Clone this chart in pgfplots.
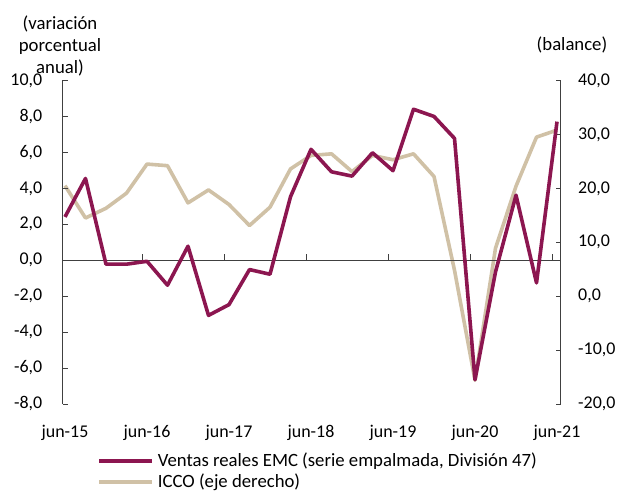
\documentclass[border=0pt]{standalone}
\usepackage{fontspec}
\setmainfont{Carlito}
\usepackage{pgfplots}
\usepackage{pgfplotstable}
\pgfplotsset{compat=1.18}
\definecolor{ventas}{RGB}{140,22,80}
\definecolor{icco}{RGB}{208,193,166}
\definecolor{axgray}{RGB}{64,64,64}

\pgfplotstableread{
k v
0 2.41
1 4.55
2 -0.22
3 -0.22
4 -0.06
5 -1.39
6 0.78
7 -3.07
8 -2.47
9 -0.52
10 -0.78
11 3.53
12 6.17
13 4.92
14 4.68
15 5.98
16 4.98
17 8.40
18 8.00
19 6.78
20 -6.65
21 -0.65
22 3.62
23 -1.26
24 7.71
}\ventasdata

\pgfplotstableread{
k v
0 20.5
1 14.5
2 16.3
3 19.1
4 24.5
5 24.2
6 17.3
7 19.7
8 17.0
9 13.1
10 16.5
11 23.6
12 26.1
13 26.4
14 23.1
15 26.1
16 25.3
17 26.4
18 22.2
19 4.8
20 -15.6
21 8.9
22 20.4
23 29.5
24 30.8
}\iccodata

\pgfplotsset{
  common/.style={
    scale only axis, width=498bp, height=323.5bp,
    at={(62.7bp,87bp)}, anchor=south west,
    xmin=-0.112, xmax=24.18,
    tick label style={font=\fontsize{18}{21}\selectfont},
    tick align=inside, major tick length=5bp,
    y axis line style={draw=axgray, line width=0.8bp},
    ytick style={draw=axgray, line width=0.8bp},
  }
}

\begin{document}
\begin{tikzpicture}
\useasboundingbox (0,0) rectangle (618bp,491bp);

\begin{axis}[common,
  ymin=-20, ymax=40, ytick={-20,-10,...,40},
  axis y line*=right, axis x line=none,
  yticklabel={\makebox[33bp][l]{\pgfmathprintnumber[fixed,fixed zerofill,precision=1,use comma,assume math mode=true]{\tick}}},
  yticklabel style={anchor=west, xshift=14bp},
  legend style={draw=none, fill=none, inner xsep=0pt, inner ysep=0pt,
    at={(axis description cs:0.069,-0.150)}, anchor=north west,
    font=\fontsize{18.8}{22}\selectfont, row sep=5bp,
    nodes={inner sep=0pt, text depth=0.25em},
    /tikz/every odd column/.append style={column sep=4bp}},
  legend cell align=left,
  legend image code/.code={\draw[#1] (0bp,0bp) -- (53bp,0bp);},
]
\addlegendimage{ventas, line width=3.6bp}
\addlegendentry{Ventas reales EMC (serie empalmada, División 47)}
\addplot[icco, line width=3.6bp, line join=round] table[x=k,y=v]{\iccodata};
\addlegendentry{ICCO (eje derecho)}
\end{axis}

\begin{axis}[common,
  ymin=-8, ymax=10, ytick={-8,-6,...,10},
  axis y line*=left, axis x line*=bottom,
  x axis line style={draw=none},
  xtick={0,4,...,24},
  xticklabels={jun-15,jun-16,jun-17,jun-18,jun-19,jun-20,jun-21},
  xtick style={draw=none},
  xticklabel style={anchor=base, yshift=-34bp},
  yticklabel={\pgfmathprintnumber[fixed,fixed zerofill,precision=1,use comma,assume math mode=true]{\tick}},
  yticklabel style={anchor=east, xshift=-17bp},
]
\draw[axgray, line width=0.8bp] (axis cs:-0.112,0) -- (axis cs:24.18,0);
\pgfplotsinvokeforeach{3.78,7.78,11.78,15.78,19.78,23.78}{
  \draw[axgray, line width=0.8bp] (axis cs:#1,0) -- ([yshift=6bp]axis cs:#1,0);
}
\addplot[ventas, line width=3.6bp, line join=round] table[x=k,y=v]{\ventasdata};
\end{axis}

\node[align=center, font=\fontsize{18.8}{22.5}\selectfont, inner sep=0pt] at (60bp,445bp) {(variación\\porcentual\\anual)};
\node[font=\fontsize{18.8}{22}\selectfont, inner sep=0pt] at (572bp,446bp) {(balance)};
\end{tikzpicture}
\end{document}
